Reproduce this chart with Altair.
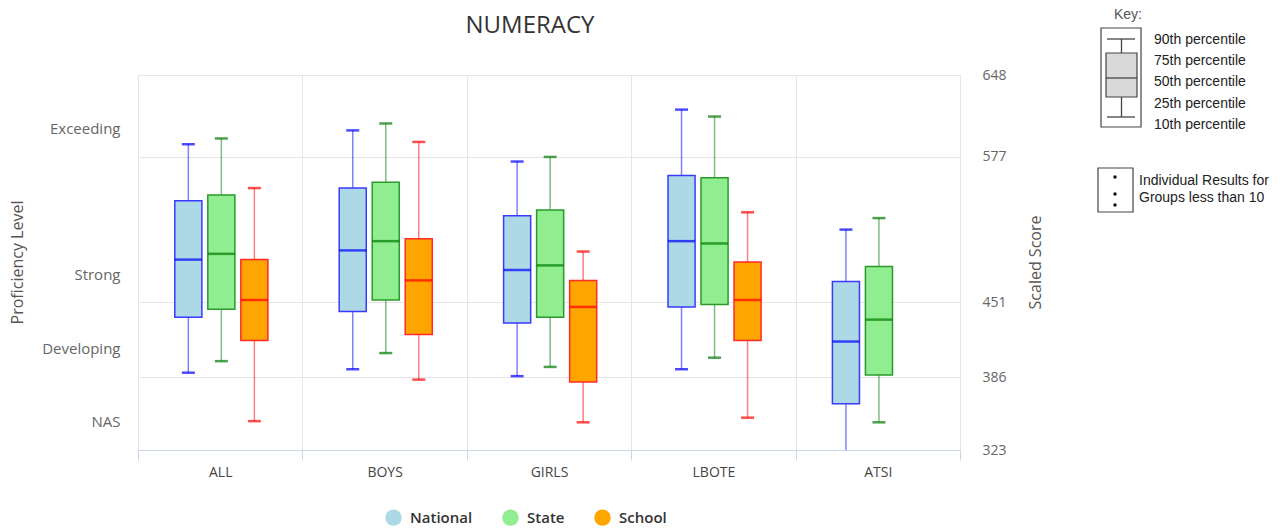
import altair as alt
import pandas as pd

groups = ["ALL", "BOYS", "GIRLS", "LBOTE", "ATSI"]
series = ["National", "State", "School"]

# percentiles (None = no data)
national_p10 = [390, 393, 387, 393, 318]
national_p25 = [438, 443, 433, 447, 363]
national_p50 = [488, 496, 479, 504, 417]
national_p75 = [539, 550, 526, 561, 469]
national_p90 = [588, 600, 573, 618, 514]

state_p10 = [400, 407, 395, 403, 347]
state_p25 = [445, 453, 438, 449, 388]
state_p50 = [493, 504, 483, 502, 436]
state_p75 = [544, 555, 531, 559, 482]
state_p90 = [593, 606, 577, 612, 524]

school_p10 = [348, 384, 347, 351, None]
school_p25 = [418, 423, 382, 418, None]
school_p50 = [453, 470, 447, 453, None]
school_p75 = [488, 506, 470, 486, None]
school_p90 = [550, 590, 495, 529, None]

levels = ["Exceeding", "Strong", "Developing", "NAS"]
level_scores = [602, 475, 411, 348]
score_ticks = [323, 386, 451, 577, 648]

key_labels = ["90th percentile", "75th percentile", "50th percentile",
              "25th percentile", "10th percentile"]
key_note = ["Individual Results for", "Groups less than 10"]

rows = []
for s, cols in zip(series, [
    (national_p10, national_p25, national_p50, national_p75, national_p90),
    (state_p10, state_p25, state_p50, state_p75, state_p90),
    (school_p10, school_p25, school_p50, school_p75, school_p90),
]):
    for i, g in enumerate(groups):
        if cols[0][i] is None:
            continue
        rows.append({"group": g, "series": s, "p10": cols[0][i], "p25": cols[1][i],
                     "p50": cols[2][i], "p75": cols[3][i], "p90": cols[4][i]})
df = pd.DataFrame(rows)

W, H = 822, 375
FONT = "Open Sans"

fill_scale = alt.Scale(domain=series, range=["#add8e6", "#90ee90", "#ffa500"])
# no explicit domain on these two so that their hidden legends do not merge with the fill legend
stroke_scale = alt.Scale(range=["#3a3aff", "#2a9a2a", "#ff2a2a"])
dark_scale = alt.Scale(range=["#0000ff", "#007a00", "#ff0000"])
yscale = alt.Scale(domain=[323, 648], nice=False, zero=False)

x_axis = alt.Axis(title=None, grid=True, gridColor="#e6e6e6", tickBand="extent",
                  domainColor="#ccd6eb", tickColor="#ccd6eb", tickSize=10,
                  labelPadding=5, labelFontSize=14, labelColor="#444", labelFont=FONT,
                  labelAngle=0)
X = alt.X("group:N", sort=groups, scale=alt.Scale(domain=groups, paddingInner=0, paddingOuter=0), axis=x_axis)
XO = alt.XOffset("series:N", sort=series,
                 scale=alt.Scale(domain=series, range=[36.8, 129.9],
                                 paddingInner=0.18, paddingOuter=0))

level_expr = " : ".join(f"datum.value == {v} ? '{n}'" for v, n in zip(level_scores, levels)) + " : ''"
left_axis = alt.Axis(orient="left", values=level_scores, labelExpr=level_expr, grid=False,
                     ticks=False, domain=False, labelPadding=18, labelFontSize=15,
                     labelColor="#666", labelFont=FONT, title="Proficiency Level",
                     titleFont=FONT, titleFontSize=16, titleFontWeight="normal",
                     titleColor="#555", titleAngle=270, titleX=-121, titleY=187,
                     titleAlign="center", titleBaseline="middle")
right_axis = alt.Axis(orient="right", values=score_ticks, grid=True, gridColor="#e6e6e6",
                      ticks=False, domain=False, labelPadding=22, labelFontSize=14,
                      labelColor="#666", labelFont=FONT, title="Scaled Score",
                      titleFont=FONT, titleFontSize=16, titleFontWeight="normal",
                      titleColor="#555", titleAngle=270, titleX=75, titleY=187,
                      titleAlign="center", titleBaseline="middle")

base = alt.Chart(df)

whisk = base.mark_rule(strokeWidth=1.5, opacity=0.5, clip=True).encode(
    x=X, xOffset=XO,
    y=alt.Y("p10:Q", scale=yscale, axis=left_axis),
    y2="p90:Q",
    color=alt.Color("series:N", scale=dark_scale, sort=series, legend=None),
)

box = base.mark_bar(strokeWidth=1.5, clip=True).encode(
    x=X, xOffset=XO,
    y=alt.Y("p25:Q", scale=yscale, axis=right_axis),
    y2="p75:Q",
    fill=alt.Fill("series:N", scale=fill_scale, sort=series,
                  legend=alt.Legend(orient="none", legendX=247, legendY=434,
                                    direction="horizontal", columns=3, title=None,
                                    symbolType="circle", symbolSize=270,
                                    symbolStrokeWidth=0, labelFontSize=15,
                                    labelFontWeight=600, labelColor="#333",
                                    labelFont=FONT, columnPadding=29, labelOffset=8)),
    stroke=alt.Stroke("series:N", scale=stroke_scale, sort=series, legend=None),
)

def tick_layer(field, size):
    return base.mark_tick(size=size, thickness=2.5, clip=True).encode(
        x=X, xOffset=XO,
        y=alt.Y(f"{field}:Q", scale=yscale, axis=None),
        color=alt.Color("series:N", scale=dark_scale, sort=series, legend=None),
    )

cap_hi = tick_layer("p90", 13)
cap_lo = tick_layer("p10", 13)
median = tick_layer("p50", 27)

one = alt.Chart(pd.DataFrame({"k": [0]}))

title = one.mark_text(text="NUMERACY", font=FONT, fontSize=24, color="#333",
                      align="center", baseline="middle").encode(
    x=alt.value(392), y=alt.value(-49))

# ---- Key (annotation drawn in pixel space to the right of the plot) ----
KC = "#444"
KF = "Liberation Sans"
key_layers = [
    one.mark_text(text="Key:", font=KF, fontSize=14, color="#555",
                  align="center", baseline="middle").encode(x=alt.value(990), y=alt.value(-60)),
    one.mark_rect(fillOpacity=0, stroke=KC, strokeWidth=1.2).encode(
        x=alt.value(963), x2=alt.value(1003), y=alt.value(-47), y2=alt.value(52)),
    one.mark_rule(stroke=KC, strokeWidth=1.3).encode(
        x=alt.value(969), x2=alt.value(997), y=alt.value(-36)),
    one.mark_rule(stroke=KC, strokeWidth=1.3).encode(
        x=alt.value(983.5), y=alt.value(-36), y2=alt.value(-22)),
    one.mark_rect(fill="#d9d9d9", stroke=KC, strokeWidth=1.2).encode(
        x=alt.value(968), x2=alt.value(999), y=alt.value(-22), y2=alt.value(22)),
    one.mark_rule(stroke=KC, strokeWidth=1.3).encode(
        x=alt.value(968), x2=alt.value(999), y=alt.value(3)),
    one.mark_rule(stroke=KC, strokeWidth=1.3).encode(
        x=alt.value(983.5), y=alt.value(22), y2=alt.value(42)),
    one.mark_rule(stroke=KC, strokeWidth=1.3).encode(
        x=alt.value(969), x2=alt.value(997), y=alt.value(42)),
    one.mark_text(text=key_labels, lineHeight=21.2, font=KF, fontSize=14,
                  color="#222", align="left", baseline="middle").encode(
        x=alt.value(1016), y=alt.value(-35)),
    one.mark_rect(fillOpacity=0, stroke=KC, strokeWidth=1.2).encode(
        x=alt.value(960), x2=alt.value(995), y=alt.value(93), y2=alt.value(137)),
    one.mark_text(text=key_note, lineHeight=16.7, font=KF, fontSize=14,
                  color="#222", align="left", baseline="middle").encode(
        x=alt.value(1001), y=alt.value(106)),
]
for yy in (102, 119, 130):
    key_layers.append(one.mark_circle(size=12, color="#111", opacity=1).encode(
        x=alt.value(977), y=alt.value(yy)))

chart = alt.layer(whisk, box, cap_hi, cap_lo, median, title, *key_layers).resolve_scale(
    y="shared").resolve_axis(y="independent").properties(
    width=W, height=H,
    autosize=alt.AutoSizeParams(type="none"),
    padding={"left": 138, "top": 75, "right": 320, "bottom": 78},
).configure_view(stroke="#e6e6e6").configure(background="white")

chart.save("out.html", embed_options={"renderer": "svg", "actions": False})
